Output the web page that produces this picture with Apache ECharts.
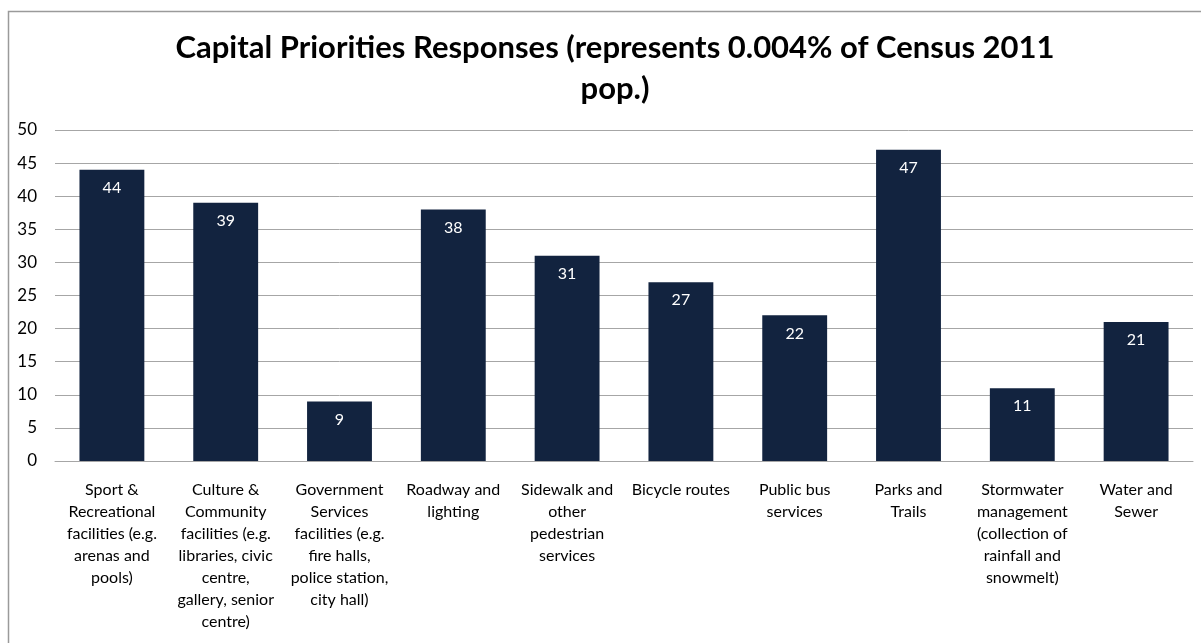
<!DOCTYPE html>
<html>
<head>
<meta charset="utf-8">
<script src="https://cdn.jsdelivr.net/npm/echarts@6/dist/echarts.min.js"></script>
<style>html,body{margin:0;padding:0;background:#fff;}#c{width:1201px;height:643px;}</style>
</head>
<body>
<div id="c"></div>
<script>
const titleText = 'Capital Priorities Responses (represents 0.004% of Census 2011\npop.)';
const categories = [
  'Sport &\nRecreational\nfacilities (e.g.\narenas and\npools)',
  'Culture &\nCommunity\nfacilities (e.g.\nlibraries, civic\ncentre,\ngallery, senior\ncentre)',
  'Government\nServices\nfacilities (e.g.\nfire halls,\npolice station,\ncity hall)',
  'Roadway and\nlighting',
  'Sidewalk and\nother\npedestrian\nservices',
  'Bicycle routes',
  'Public bus\nservices',
  'Parks and\nTrails',
  'Stormwater\nmanagement\n(collection of\nrainfall and\nsnowmelt)',
  'Water and\nSewer'
];
const values = [44, 39, 9, 38, 31, 27, 22, 47, 11, 21];
const yTicks = {min: 0, max: 50, interval: 5};

const chart = echarts.init(document.getElementById('c'), null, {renderer: 'canvas'});
chart.setOption({
  animation: false,
  backgroundColor: '#fff',
  graphic: [{
    type: 'rect', left: 6, top: 9, z: -1,
    shape: {width: 1200, height: 640},
    style: {fill: 'none', stroke: '#9a9a9a', lineWidth: 1.5}
  }],
  title: {
    text: titleText,
    left: 610,
    textAlign: 'center',
    top: 22,
    textStyle: {fontFamily: 'Lato', fontWeight: 'bold', fontSize: 31, color: '#000', lineHeight: 41}
  },
  grid: {left: 55, right: 8, top: 130, bottom: 182, containLabel: false},
  xAxis: {
    type: 'category',
    data: categories,
    axisLine: {lineStyle: {color: '#a6a6a6', width: 1}},
    axisTick: {show: false},
    axisLabel: {
      interval: 0, margin: 18, color: '#000',
      fontFamily: 'Lato', fontSize: 16, lineHeight: 22, align: 'center'
    }
  },
  yAxis: {
    type: 'value',
    min: yTicks.min, max: yTicks.max, interval: yTicks.interval,
    axisLine: {show: false},
    axisTick: {show: false},
    splitLine: {lineStyle: {color: '#a6a6a6', width: 1}},
    axisLabel: {color: '#000', fontFamily: 'Lato', fontSize: 17, margin: 18}
  },
  series: [{
    type: 'bar',
    data: values,
    barCategoryGap: '43%',
    itemStyle: {color: '#12233F'},
    label: {
      show: true, position: 'insideTop', distance: 10,
      color: '#fff', fontFamily: 'Lato', fontSize: 16
    }
  }]
});
</script>
</body>
</html>
